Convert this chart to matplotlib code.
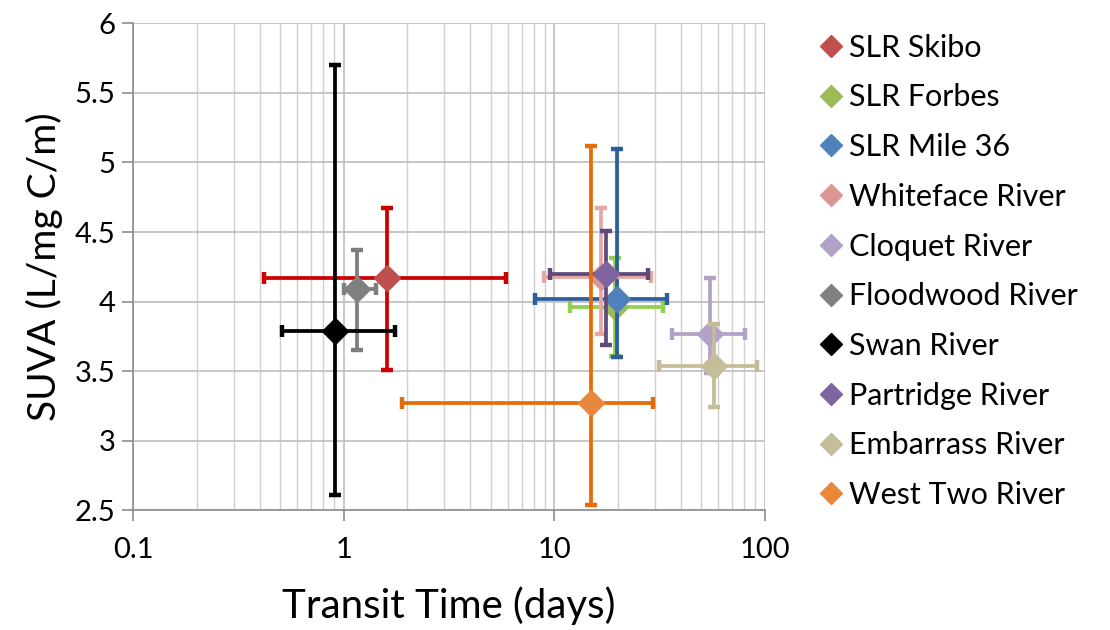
import matplotlib
matplotlib.use("Agg")
import matplotlib.pyplot as plt
from matplotlib.lines import Line2D
from matplotlib.ticker import FixedLocator, LogLocator, NullFormatter

plt.rcParams["font.family"] = ["Lato", "DejaVu Sans"]

names = ["SLR Skibo", "SLR Forbes", "SLR Mile 36", "Whiteface River", "Cloquet River",
         "Floodwood River", "Swan River", "Partridge River", "Embarrass River", "West Two River"]
transit = [1.6, 19.4, 19.9, 16.6, 54.7, 1.15, 0.91, 17.7, 57.3, 15.0]
transit_lo = [0.42, 11.9, 8.1, 8.9, 36.1, 1.0, 0.51, 9.5, 31.5, 1.9]
transit_hi = [5.9, 33.0, 34.4, 28.9, 80.4, 1.42, 1.76, 28.0, 92.3, 29.5]
suva = [4.17, 3.96, 4.02, 4.18, 3.77, 4.09, 3.79, 4.20, 3.54, 3.27]
suva_lo = [3.51, 3.61, 3.60, 3.77, 3.49, 3.65, 2.61, 3.69, 3.24, 2.54]
suva_hi = [4.67, 4.31, 5.10, 4.67, 4.17, 4.37, 5.70, 4.51, 3.84, 5.12]

marker_colors = ["#C0504D", "#9BBB59", "#4F81BD", "#D99694", "#B3A2C7",
                 "#808080", "#000000", "#8064A2", "#C4BD97", "#E9873D"]
bar_colors = ["#CC0000", "#92D050", "#2E5F9A", "#E6A6A4", "#B3A2C7",
              "#7F7F7F", "#000000", "#5F4A7B", "#C4BD97", "#E46C0A"]

fig = plt.figure(figsize=(11.1, 6.3), dpi=100)
ax = fig.add_axes([0.12, 0.19, 0.569, 0.773])

for i, name in enumerate(names):
    x, y = transit[i], suva[i]
    xerr = [[x - transit_lo[i]], [transit_hi[i] - x]]
    yerr = [[y - suva_lo[i]], [suva_hi[i] - y]]
    ax.errorbar([x], [y], xerr=xerr, yerr=yerr, fmt="none", ecolor=bar_colors[i],
                elinewidth=2.7, capsize=4, capthick=3.2, zorder=3 + i)
    ax.plot([x], [y], marker="D", markersize=13.5, color=marker_colors[i],
            linestyle="none", zorder=3.5 + i)

ax.set_xscale("log")
ax.set_xlim(0.1, 100)
ax.set_ylim(2.5, 6)
ax.yaxis.set_major_locator(FixedLocator([2.5, 3, 3.5, 4, 4.5, 5, 5.5, 6]))
ax.set_yticklabels(["2.5", "3", "3.5", "4", "4.5", "5", "5.5", "6"])
ax.xaxis.set_major_locator(FixedLocator([0.1, 1, 10, 100]))
ax.set_xticklabels(["0.1", "1", "10", "100"])
ax.xaxis.set_minor_locator(LogLocator(base=10, subs=range(2, 10)))
ax.xaxis.set_minor_formatter(NullFormatter())

ax.grid(True, which="major", color="#BEBEBE", linewidth=1.2)
ax.grid(True, which="minor", axis="x", color="#CFCFCF", linewidth=1.0)
ax.set_axisbelow(True)

for s in ["top", "right"]:
    ax.spines[s].set_visible(False)
for s in ["left", "bottom"]:
    ax.spines[s].set_color("#8C8C8C")
    ax.spines[s].set_linewidth(1.2)
ax.tick_params(axis="both", which="major", direction="out", length=8, width=1.2,
               color="#8C8C8C", labelsize=21, pad=5)
ax.tick_params(axis="x", which="minor", length=0)
ax.tick_params(axis="x", which="major", pad=11)

ax.set_xlabel("Transit Time (days)", fontsize=29, labelpad=17)
ax.set_ylabel("SUVA (L/mg C/m)", fontsize=28, labelpad=8)

handles = [Line2D([], [], marker="D", markersize=11.5, color=c, linestyle="none")
           for c in marker_colors]
fig.legend(handles, names, loc="upper left", bbox_to_anchor=(0.71, 0.99),
           frameon=False, fontsize=22, handletextpad=0.1, labelspacing=0.71,
           handlelength=1.0)

fig.savefig("out.png", dpi=100)
